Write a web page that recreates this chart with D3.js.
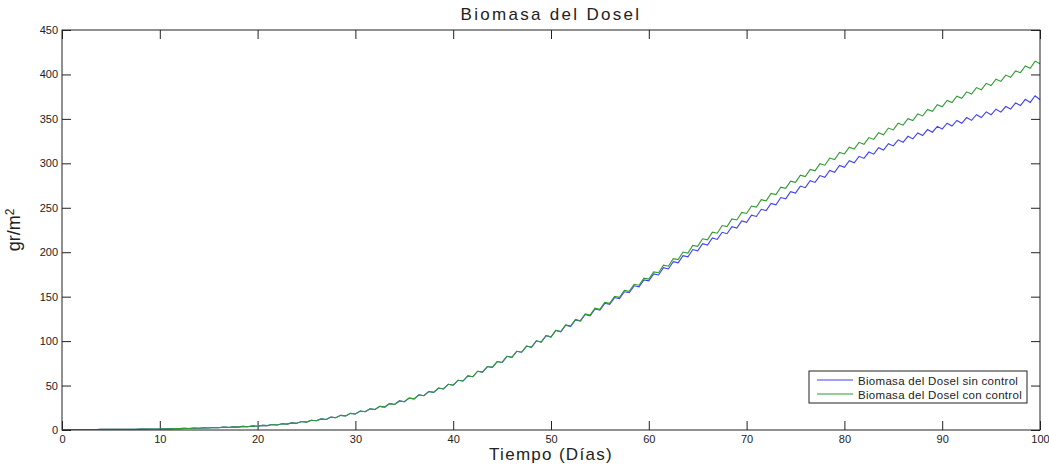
<!DOCTYPE html>
<html>
<head>
<meta charset="utf-8">
<script src="https://cdn.jsdelivr.net/npm/d3@7"></script>
<style>
    body { margin: 0; background: #fff; }
    text { font-family: 'Liberation Sans', Arial, Helvetica, sans-serif; fill: #222; }
</style>
</head>
<body>
<div id="chart"></div>
<script>
// tick values
const xTicks = [0, 10, 20, 30, 40, 50, 60, 70, 80, 90, 100];
const yTicks = [0, 50, 100, 150, 200, 250, 300, 350, 400, 450];

// series labels
const series = ['Biomasa del Dosel sin control', 'Biomasa del Dosel con control'];

// biomass, one value every half day (day 0, 0.5, 1, ... 100)
const sinControl = [
    0.5, 0.5, 0.5, 0.5, 0.6, 0.6, 0.6, 0.6, 0.7, 0.7, 0.7, 0.7, 0.8, 0.8, 0.9, 0.9, 1.0, 1.0, 1.1, 1.1, 1.2, 1.3,
    1.3, 1.6, 1.5, 1.8, 1.7, 2.1, 2.0, 2.4, 2.2, 2.8, 2.6, 3.2, 2.9, 3.5, 3.2, 4.1, 3.7, 4.6,
    4.2, 5.2, 4.9, 6.1, 5.7, 7.0, 6.6, 8.0, 7.6, 9.5, 8.9, 10.9, 10.4, 12.5, 11.9, 14.5, 13.8, 16.5, 15.9, 18.7,
    18.0, 21.3, 20.5, 23.8, 23.1, 26.6, 25.8, 29.7, 28.7, 32.7, 31.8, 35.9, 35.0, 39.6, 38.6, 43.3, 42.4, 47.2, 46.2, 51.5,
    50.4, 56.0, 55.1, 60.8, 59.9, 66.1, 65.1, 71.4, 70.5, 77.0, 76.0, 82.9, 81.7, 88.6,
    87.5, 94.4, 93.0, 100.3, 98.8, 106.1,
    104.6, 112.0, 110.5, 117.9, 116.4, 123.8, 122.4, 129.9, 128.5, 136.1, 134.8, 142.5, 141.3, 149.0, 147.8, 155.5, 154.4, 162.2, 161.1, 168.9,
    167.8, 175.6, 174.4, 182.6, 181.2, 189.4, 188.0, 196.2, 194.8, 203.0, 201.6, 209.6, 208.0, 216.0, 214.4, 222.4, 220.8, 228.8, 227.2, 235.2,
    233.6, 241.7, 240.2, 248.3, 246.8, 254.9, 253.4, 261.5, 260.0, 268.1, 266.6, 274.4, 272.6, 280.4, 278.5, 286.2, 284.3, 292.0, 290.0, 297.6,
    295.6, 302.9, 300.6, 307.9, 305.5, 312.7, 310.3, 317.5, 315.0, 322.1, 319.6, 326.4, 323.6, 330.4, 327.5, 334.2, 331.3, 338.0, 335.0, 341.6,
    338.6, 345.1, 341.9, 348.3, 345.1, 351.5, 348.3, 354.7, 351.5, 357.9, 354.6, 360.9, 357.6, 363.9, 361.0, 368.0, 365.0, 372.0, 368.5, 376.0,
    371.5
];

const conControl = [
    0.5, 0.5, 0.5, 0.5, 0.6, 0.6, 0.6, 0.6, 0.7, 0.7, 0.7, 0.7, 0.8, 0.8, 0.9, 0.9, 1.0, 1.0, 1.1, 1.1, 1.2, 1.3,
    1.3, 1.6, 1.5, 1.8, 1.7, 2.1, 2.0, 2.4, 2.2, 2.8, 2.6, 3.2, 2.9, 3.5, 3.2, 4.1, 3.7, 4.6,
    4.2, 5.2, 4.9, 6.1, 5.7, 7.0, 6.6, 8.0, 7.6, 9.5, 8.9, 10.9, 10.4, 12.5, 11.9, 14.5, 13.8, 16.5, 15.9, 18.7,
    18.0, 21.3, 20.5, 23.8, 23.1, 26.6, 25.8, 29.7, 28.7, 32.7, 31.8, 35.9, 35.0, 39.6, 38.6, 43.3, 42.4, 47.2, 46.2, 51.5,
    50.4, 56.0, 55.1, 60.8, 59.9, 66.1, 65.1, 71.4, 70.5, 77.0, 76.0, 82.9, 81.7, 88.6,
    87.5, 94.4, 93.1, 100.4, 98.9, 106.3,
    104.8, 112.2, 110.8, 118.3, 116.9, 124.4, 123.0, 130.6, 129.3, 137.0, 135.8, 143.6, 142.5, 150.3, 149.2, 157.0, 156.0, 163.9, 162.9, 170.8,
    169.8, 177.9, 176.9, 185.4, 184.3, 192.8, 191.7, 200.2, 199.1, 207.7, 206.6, 215.1, 214.0, 222.5, 221.4, 230.0, 228.9, 237.4, 236.3, 244.8,
    243.6, 252.0, 250.7, 259.1, 257.8, 266.1, 264.8, 273.1, 271.8, 280.0, 278.6, 286.7, 285.1, 293.2, 291.6, 299.6, 297.9, 305.9, 304.3, 312.3,
    310.6, 318.2, 316.1, 323.6, 321.5, 329.0, 326.9, 334.4, 332.2, 339.7, 337.6, 345.1, 342.9, 350.3, 348.1, 355.5, 353.3, 360.7, 358.5, 365.9,
    363.6, 370.8, 368.4, 375.6, 373.2, 380.4, 378.0, 385.2, 382.8, 390.0, 387.6, 394.7, 392.2, 399.3, 396.8, 403.9, 402.0, 409.5, 407.0, 415.0,
    412.0
];

const colors = ['#4040f4', '#2f9c2f'];

const margin = { top: 30, right: 9, bottom: 38, left: 62 };
const width = 1049 - margin.left - margin.right;
const height = 468 - margin.top - margin.bottom;

const svg = d3
    .select('#chart')
    .append('svg')
    .attr('width', 1049)
    .attr('height', 468)
    .append('g')
    .attr('transform', 'translate(' + margin.left + ',' + margin.top + ')');

const x = d3.scaleLinear().domain([0, 100]).range([0, width]);
const y = d3.scaleLinear().domain([0, 450]).range([height, 0]);

// axes with inward ticks on all four sides
svg.append('g')
    .attr('class', 'x axis')
    .attr('transform', 'translate(0,' + height + ')')
    .call(d3.axisBottom(x).tickValues(xTicks).tickSizeInner(-9).tickSizeOuter(0).tickPadding(5));

svg.append('g')
    .attr('class', 'y axis')
    .call(d3.axisLeft(y).tickValues(yTicks).tickSizeInner(-9).tickSizeOuter(0).tickPadding(4));

svg.append('g')
    .attr('class', 'top axis')
    .call(d3.axisTop(x).tickValues(xTicks).tickSizeInner(-9).tickSizeOuter(0).tickFormat(''));

svg.append('g')
    .attr('class', 'right axis')
    .attr('transform', 'translate(' + width + ',0)')
    .call(d3.axisRight(y).tickValues(yTicks).tickSizeInner(-9).tickSizeOuter(0).tickFormat(''));

svg.selectAll('.axis .domain').remove();
svg.selectAll('.axis line').attr('stroke', '#222');
svg.selectAll('.axis text')
    .style('font-family', "'Liberation Sans', Arial, sans-serif")
    .style('font-size', '11px')
    .attr('fill', '#222');

// lines
const line = d3.line()
    .x((d, i) => x(i * 0.5))
    .y(d => y(d));

svg.append('path')
    .datum(sinControl)
    .attr('fill', 'none')
    .attr('stroke', colors[0])
    .attr('stroke-width', 1.1)
    .attr('d', line);

svg.append('path')
    .datum(conControl)
    .attr('fill', 'none')
    .attr('stroke', colors[1])
    .attr('stroke-width', 1.1)
    .attr('d', line);

// plot box
svg.append('rect')
    .attr('x', 0)
    .attr('y', 0)
    .attr('width', width)
    .attr('height', height)
    .attr('fill', 'none')
    .attr('stroke', '#222')
    .attr('stroke-width', 1);

// title and labels
svg.append('text')
    .attr('x', width / 2)
    .attr('y', -10)
    .attr('text-anchor', 'middle')
    .style('font-size', '17px')
    .style('letter-spacing', '2.3px')
    .text('Biomasa del Dosel');

svg.append('text')
    .attr('x', width / 2)
    .attr('y', height + 30)
    .attr('text-anchor', 'middle')
    .style('font-size', '17px')
    .style('letter-spacing', '1.3px')
    .text('Tiempo (Días)');

const yLabel = svg.append('text')
    .attr('transform', 'translate(-42,' + (height / 2) + ') rotate(-90)')
    .attr('text-anchor', 'middle')
    .style('font-size', '18px');
yLabel.append('tspan').text('gr/m');
yLabel.append('tspan')
    .attr('dy', '-0.5em')
    .style('font-size', '12px')
    .text('2');

// legend
const legend = svg.append('g')
    .attr('transform', 'translate(' + (809 - margin.left) + ',' + (371 - margin.top) + ')');

legend.append('rect')
    .attr('width', 218)
    .attr('height', 32)
    .attr('fill', '#fff')
    .attr('stroke', '#222');

legend.selectAll('.legline')
    .data(series)
    .join('line')
    .attr('class', 'legline')
    .attr('x1', 8)
    .attr('x2', 44)
    .attr('y1', (d, i) => 9 + i * 14)
    .attr('y2', (d, i) => 9 + i * 14)
    .attr('stroke', (d, i) => colors[i]);

legend.selectAll('.legtext')
    .data(series)
    .join('text')
    .attr('class', 'legtext')
    .attr('x', 49)
    .attr('y', (d, i) => 13.5 + i * 14)
    .style('font-size', '11.5px')
    .style('letter-spacing', '0.3px')
    .text(d => d);
</script>
</body>
</html>
